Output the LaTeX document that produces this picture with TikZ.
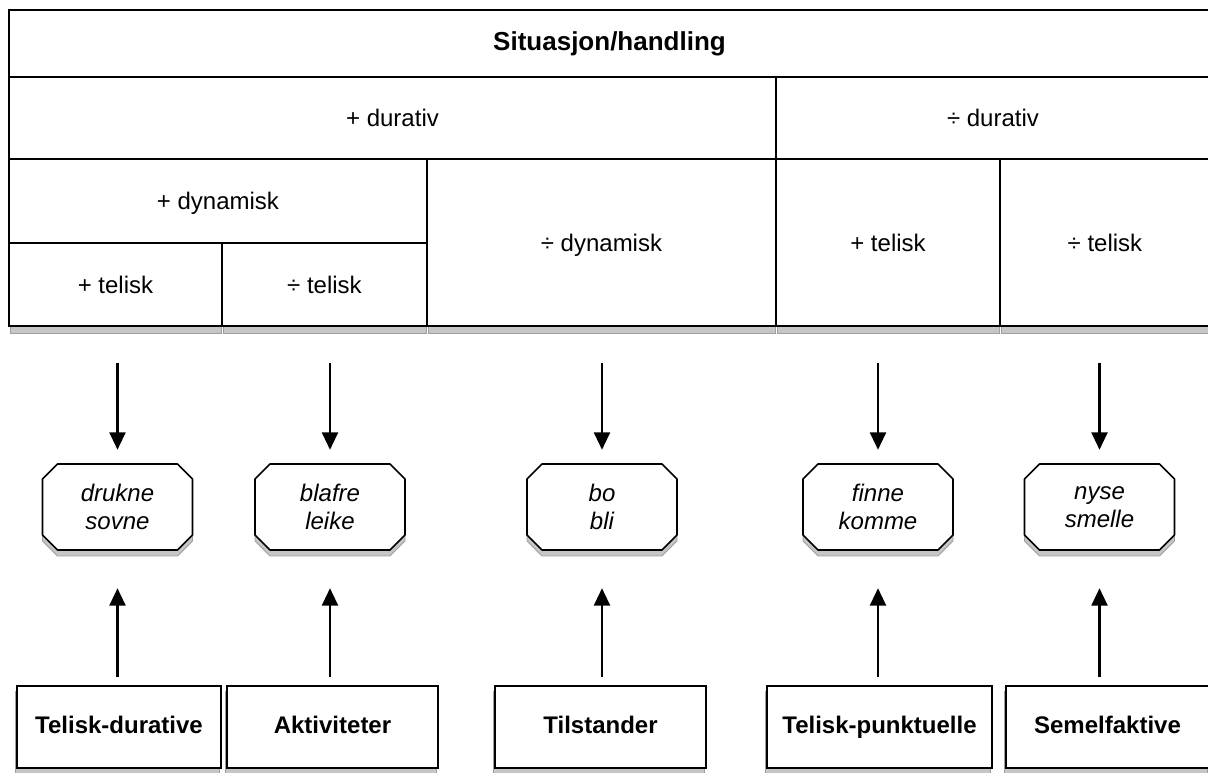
\documentclass[tikz,border=0pt]{standalone}
\usepackage{fontspec}
\setmainfont{Liberation Sans}
\usetikzlibrary{fit,arrows.meta}
\begin{document}
\begin{tikzpicture}[x=0.75pt,y=-0.75pt,
  txt/.style={font=\fontsize{18}{21}\selectfont,text height=13pt,text depth=4pt,yshift=-2pt},
  cell/.style={draw,line width=1.2pt,inner sep=0pt,fill=white},
  lab/.style={label={[txt]center:#1}},
  blab/.style={label={[font=\bfseries\fontsize{18}{21}\selectfont,text height=13pt,text depth=4pt,yshift=-0.5pt]center:#1}},
  shdw/.style={fill=gray!45,draw=gray!75,line width=0.6pt},
  octfill/.style={fill=white,draw,line width=1.2pt,line join=round},
  oct/.style={rectangle,minimum width=112.5pt,minimum height=64.5pt,inner sep=0pt,
    align=center,font=\itshape\fontsize{18}{21}\selectfont},
  arr/.style={line width=1.6pt,-{Triangle[length=13pt,width=12pt]}}]
\useasboundingbox (0,0) rectangle (1208,773);
\clip (0,0) rectangle (1208,773);
\fill[white] (0,0) rectangle (1208,773);
% shadows of table cells
\foreach \a/\b in {9/222,222/427,427/776,776/1000,1000/1212}{
  \path[shdw] (\a+1,326) rectangle (\b-1,333);
}
% table
\node[cell,fit={(9,10)(1210,77)},label={[font=\bfseries\fontsize{19.5}{21}\selectfont]center:Situasjon/handling}] (title) {};
\node[cell,fit={(9,77)(776,159)},lab={+ durativ}] (dur) {};
\node[cell,fit={(776,77)(1210,159)},lab={÷ durativ}] (ndur) {};
\node[cell,fit={(9,159)(427,243)},lab={+ dynamisk}] (dyn) {};
\node[cell,fit={(9,243)(222,326)},lab={+ telisk}] (c1) {};
\node[cell,fit={(222,243)(427,326)},lab={÷ telisk}] (c2) {};
\node[cell,fit={(427,159)(776,326)},lab={÷ dynamisk}] (c3) {};
\node[cell,fit={(776,159)(1000,326)},lab={+ telisk}] (c4) {};
\node[cell,fit={(1000,159)(1210,326)},lab={÷ telisk}] (c5) {};
% verb group octagons: shadow, then outline
\foreach \x in {117.5,330,602,878,1099.5}{
  \path[shdw] (\x-60,470) -- (\x+60,470) -- (\x+75,485) -- (\x+75,541) -- (\x+60,556)
     -- (\x-60,556) -- (\x-75,541) -- (\x-75,485) -- cycle;
  \path[octfill] (\x-60,464) -- (\x+60,464) -- (\x+75,479) -- (\x+75,535) -- (\x+60,550)
     -- (\x-60,550) -- (\x-75,535) -- (\x-75,479) -- cycle;
}
\node[oct] (o1) at (117.5,507) {drukne\\sovne};
\node[oct] (o2) at (330,507) {blafre\\leike};
\node[oct] (o3) at (602,507) {bo\\bli};
\node[oct] (o4) at (878,507) {finne\\komme};
\node[oct] (o5) at (1099.5,507) {nyse\\smelle};
% bottom boxes (shadows first)
\foreach \a/\b in {17/221,227/438,495/706,767/992,1006/1209}{
  \path[shdw] (\a-2,691) rectangle (\b-2,775);
}
\node[cell,fit={(17,686)(221,768)},blab={Telisk-durative}] (b1) {};
\node[cell,fit={(227,686)(438,768)},blab={Aktiviteter}] (b2) {};
\node[cell,fit={(495,686)(706,768)},blab={Tilstander}] (b3) {};
\node[cell,fit={(767,686)(992,768)},blab={Telisk-punktuelle}] (b4) {};
\node[cell,fit={(1006,686)(1209,768)},blab={Semelfaktive}] (b5) {};
% arrows
\foreach \c/\o in {c1/o1,c2/o2,c3/o3,c4/o4,c5/o5}{
  \draw[arr] ([yshift=-27pt]\c.south -| \o.north) -- ([yshift=10.5pt]\o.north);
}
\foreach \b/\o in {b1/o1,b2/o2,b3/o3,b4/o4,b5/o5}{
  \draw[arr] ([yshift=6pt]\b.north -| \o.south) -- ([yshift=-28.5pt]\o.south);
}
\end{tikzpicture}
\end{document}
